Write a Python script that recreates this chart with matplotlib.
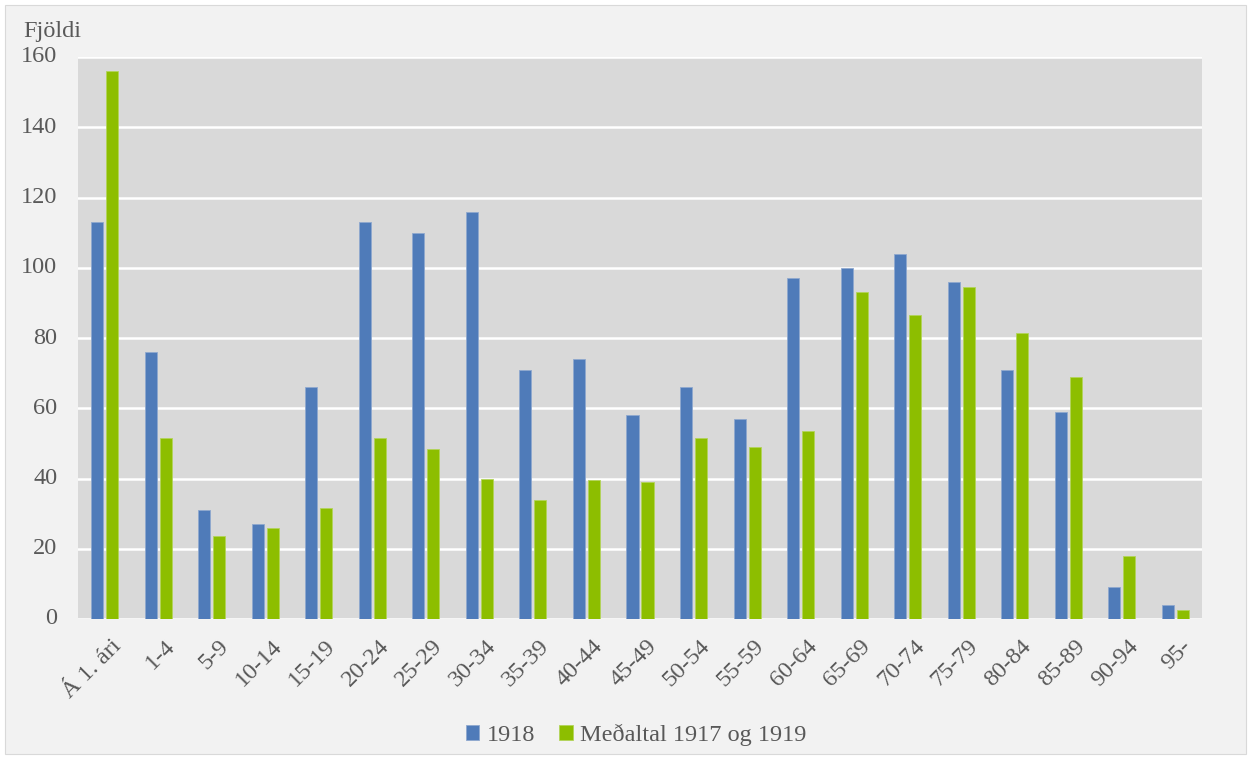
import matplotlib
matplotlib.use("Agg")
import matplotlib.pyplot as plt
import matplotlib.transforms as mtransforms
import numpy as np
from matplotlib.patches import Rectangle

categories = ["Á 1. ári", "1-4", "5-9", "10-14", "15-19", "20-24", "25-29", "30-34",
              "35-39", "40-44", "45-49", "50-54", "55-59", "60-64", "65-69", "70-74",
              "75-79", "80-84", "85-89", "90-94", "95-"]
y1918 = [113, 76, 31, 27, 66, 113, 110, 116, 71, 74, 58, 66, 57, 97, 100, 104, 96, 71, 59, 9, 4]
y_avg = [156, 51.5, 23.5, 26, 31.5, 51.5, 48.5, 40, 34, 39.5, 39, 51.5, 49, 53.5, 93, 86.5,
         94.5, 81.5, 69, 18, 2.5]
series_names = ["1918", "Meðaltal 1917 og 1919"]
yticks = [0, 20, 40, 60, 80, 100, 120, 140, 160]

plt.rcParams['font.family'] = ['Liberation Serif', 'DejaVu Serif']
txt_color = '#595959'
blue = '#4F7BB9'
green = '#8DBE00'
fs = 17.5

W, H = 1251, 758
fig = plt.figure(figsize=(W / 100, H / 100), dpi=100, facecolor='white')
fig.patches.append(Rectangle((5 / W, 4 / H), (W - 10) / W, (H - 9) / H,
                             transform=fig.transFigure, facecolor='#f2f2f2',
                             edgecolor='#d9d9d9', linewidth=0.8, zorder=-10))

ax = fig.add_axes([78 / W, 1 - 619 / H, (1202 - 78) / W, (619 - 57) / H])
ax.set_facecolor('#d9d9d9')

x = np.arange(len(categories))
bw = 0.225
off = 0.14
ax.bar(x - off, y1918, width=bw, color=blue, edgecolor='#8fa8cf', linewidth=0.6,
       label=series_names[0], zorder=3)
ax.bar(x + off, y_avg, width=bw, color=green, edgecolor='#b3d45a', linewidth=0.6,
       label=series_names[1], zorder=3)

ax.set_xlim(-0.5, len(categories) - 0.5)
ax.set_ylim(0, 160)
ax.set_yticks(yticks)
ax.set_yticklabels([str(v) for v in yticks])
ax.grid(axis='y', color='white', linewidth=1.8, zorder=1)
ax.set_axisbelow(True)
for s in ax.spines.values():
    s.set_visible(False)

ax.tick_params(axis='y', length=0, pad=15, labelsize=fs, labelcolor=txt_color)
ax.tick_params(axis='x', length=0, pad=12, labelsize=fs, labelcolor=txt_color)
ax.set_xticks(x)
ax.set_xticklabels(categories, rotation=45, ha='right', va='top', rotation_mode='anchor')
shift = mtransforms.ScaledTranslation(6 / 100, 0, fig.dpi_scale_trans)
for lbl in ax.get_xticklabels():
    lbl.set_transform(lbl.get_transform() + shift)
for lbl in ax.get_yticklabels():
    lbl.set_verticalalignment('center')

fig.text(23 / W, 1 - 37 / H, "Fjöldi", fontsize=fs, color=txt_color, va='baseline', ha='left')

leg = fig.legend(loc='center', bbox_to_anchor=(636 / W, 1 - 735 / H), ncol=2, frameon=False,
                 fontsize=fs, handlelength=0.55, handleheight=0.55, handletextpad=0.3,
                 columnspacing=1.0, labelcolor=txt_color)

fig.savefig('out.png', dpi=100, facecolor=fig.get_facecolor())
